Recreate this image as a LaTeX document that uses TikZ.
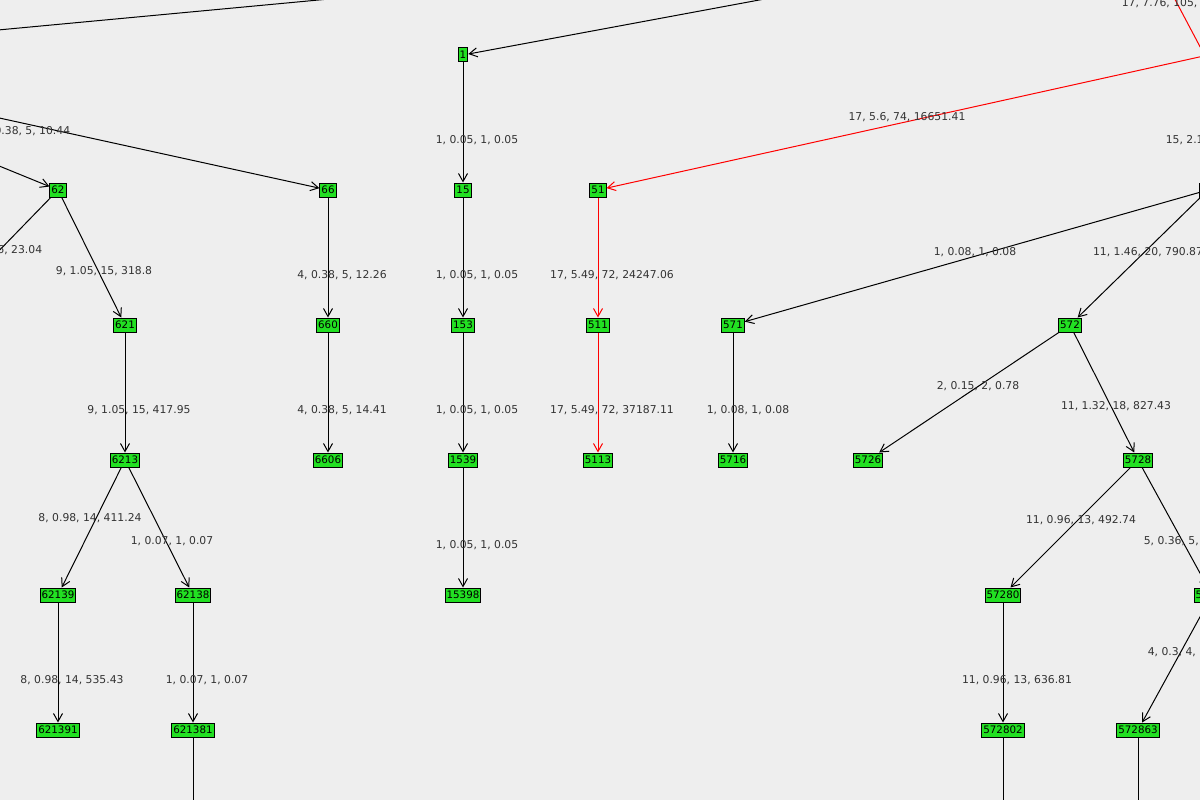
\documentclass[tikz,border=0pt]{standalone}
\usepackage{fontspec}
\setmainfont{DejaVu Sans}
\usetikzlibrary{arrows.meta}
\definecolor{bg}{HTML}{EEEEEE}
\definecolor{ng}{HTML}{22E022}
\definecolor{lbl}{HTML}{333333}
\begin{document}
\begin{tikzpicture}[x=1pt,y=-1pt,line width=1pt,
  nd/.style={draw=black,fill=ng,inner sep=1.5pt,minimum height=14pt,minimum width=9pt,font=\fontsize{10.3}{11}\selectfont},
  ed/.style={draw=black,-{Straight Barb[length=8pt,width=9pt,line width=1pt]}},
  red/.style={draw=red,-{Straight Barb[length=8pt,width=9pt,line width=1pt]}},
  lb/.style={font=\fontsize{10.8}{12}\selectfont,text=lbl}]
\useasboundingbox (0,0) rectangle (1200,800);
\fill[bg] (0,0) rectangle (1200,800);
\clip (0,0) rectangle (1200,800);
% nodes
\node[nd] (n1) at (463,55) {1};
\node[nd] (n15) at (463,190) {15};
\node[nd] (n153) at (463,325) {153};
\node[nd] (n1539) at (463,460) {1539};
\node[nd] (n15398) at (463,595) {15398};
\node[nd] (n51) at (598,190) {51};
\node[nd] (n511) at (598,325) {511};
\node[nd] (n5113) at (598,460) {5113};
\node[nd] (n571) at (733,325) {571};
\node[nd] (n5716) at (733,460) {5716};
\node[nd] (n57) at (1208,190) {57};
\node[nd] (n572) at (1070,325) {572};
\node[nd] (n5726) at (868,460) {5726};
\node[nd] (n5728) at (1138,460) {5728};
\node[nd] (n57280) at (1003,595) {57280};
\node[nd] (n57286) at (1212,595) {57286};
\node[nd] (n572802) at (1003,730) {572802};
\node[nd] (n572863) at (1138,730) {572863};
\node[nd] (n62) at (58,190) {62};
\node[nd] (n621) at (125,325) {621};
\node[nd] (n6213) at (125,460) {6213};
\node[nd] (n62139) at (58,595) {62139};
\node[nd] (n62138) at (193,595) {62138};
\node[nd] (n621391) at (58,730) {621391};
\node[nd] (n621381) at (193,730) {621381};
\node[nd] (n66) at (328,190) {66};
\node[nd] (n660) at (328,325) {660};
\node[nd] (n6606) at (328,460) {6606};
% off-screen coordinates
\coordinate (a1) at (770,-2);
\coordinate (a2) at (-2,30);
\coordinate (a3) at (340,-2);
\coordinate (a4) at (-60,105);
\coordinate (a5) at (-40,150);
\coordinate (a6) at (-10,260);
\coordinate (a7) at (1240,48);
\coordinate (a8) at (1170,-10);
\coordinate (a9) at (1215,75);
\coordinate (b1) at (193,810);
\coordinate (b2) at (1003,810);
\coordinate (b3) at (1138,810);
% edges
\draw[ed] (a1) -- (n1);
\draw (a2) -- (a3);
\draw[ed] (a4) -- (n66);
\draw[ed] (a5) -- (n62);
\draw (n62) -- (a6);
\draw[red] (a7) -- (n51);
\draw[draw=red] (a8) -- (a9);
\draw[ed] (n1) -- (n15);
\draw[ed] (n15) -- (n153);
\draw[ed] (n153) -- (n1539);
\draw[ed] (n1539) -- (n15398);
\draw[red] (n51) -- (n511);
\draw[red] (n511) -- (n5113);
\draw[ed] (n57) -- (n571);
\draw[ed] (n57) -- (n572);
\draw[ed] (n571) -- (n5716);
\draw[ed] (n572) -- (n5726);
\draw[ed] (n572) -- (n5728);
\draw[ed] (n5728) -- (n57280);
\draw[ed] (n5728) -- (n57286);
\draw[ed] (n57280) -- (n572802);
\draw[ed] (n57286) -- (n572863);
\draw (n572802) -- (b2);
\draw (n572863) -- (b3);
\draw[ed] (n62) -- (n621);
\draw[ed] (n621) -- (n6213);
\draw[ed] (n6213) -- (n62139);
\draw[ed] (n6213) -- (n62138);
\draw[ed] (n62139) -- (n621391);
\draw[ed] (n62138) -- (n621381);
\draw (n621381) -- (b1);
\draw[ed] (n66) -- (n660);
\draw[ed] (n660) -- (n6606);
% labels
\node[lb] (l1) at (477,140) {1, 0.05, 1, 0.05};
\node[lb] (l2) at (477,275) {1, 0.05, 1, 0.05};
\node[lb] (l3) at (477,410) {1, 0.05, 1, 0.05};
\node[lb] (l4) at (477,545) {1, 0.05, 1, 0.05};
\node[lb] (l5) at (907,117) {17, 5.6, 74, 16651.41};
\node[lb,anchor=west] (l6) at (1118,3) {17, 7.76, 105, 29361.1};
\node[lb,anchor=west] (l9) at (1162,140) {15, 2.1, 25, 534.08};
\node[lb] (l7) at (612,275) {17, 5.49, 72, 24247.06};
\node[lb] (l8) at (612,410) {17, 5.49, 72, 37187.11};
\node[lb] (l10) at (975,252) {1, 0.08, 1, 0.08};
\node[lb] (l11) at (1148,252) {11, 1.46, 20, 790.87};
\node[lb] (l12) at (748,410) {1, 0.08, 1, 0.08};
\node[lb] (l13) at (978,386) {2, 0.15, 2, 0.78};
\node[lb] (l14) at (1116,406) {11, 1.32, 18, 827.43};
\node[lb] (l15) at (1081,520) {11, 0.96, 13, 492.74};
\node[lb,anchor=west] (l16) at (1140,541) {5, 0.36, 5, 24.4};
\node[lb] (l17) at (1017,680) {11, 0.96, 13, 636.81};
\node[lb,anchor=west] (l18) at (1144,652) {4, 0.3, 4, 18.27};
\node[lb] (l19) at (104,271) {9, 1.05, 15, 318.8};
\node[lb] (l20) at (139,410) {9, 1.05, 15, 417.95};
\node[lb] (l21) at (90,518) {8, 0.98, 14, 411.24};
\node[lb] (l22) at (172,541) {1, 0.07, 1, 0.07};
\node[lb] (l23) at (72,680) {8, 0.98, 14, 535.43};
\node[lb] (l24) at (207,680) {1, 0.07, 1, 0.07};
\node[lb] (l25) at (342,275) {4, 0.38, 5, 12.26};
\node[lb] (l26) at (342,410) {4, 0.38, 5, 14.41};
\node[lb,anchor=east] (l27) at (74,131) {4, 0.38, 5, 10.44};
\node[lb,anchor=east] (l28) at (46,250) {5, 0.46, 6, 23.04};
\end{tikzpicture}
\end{document}
